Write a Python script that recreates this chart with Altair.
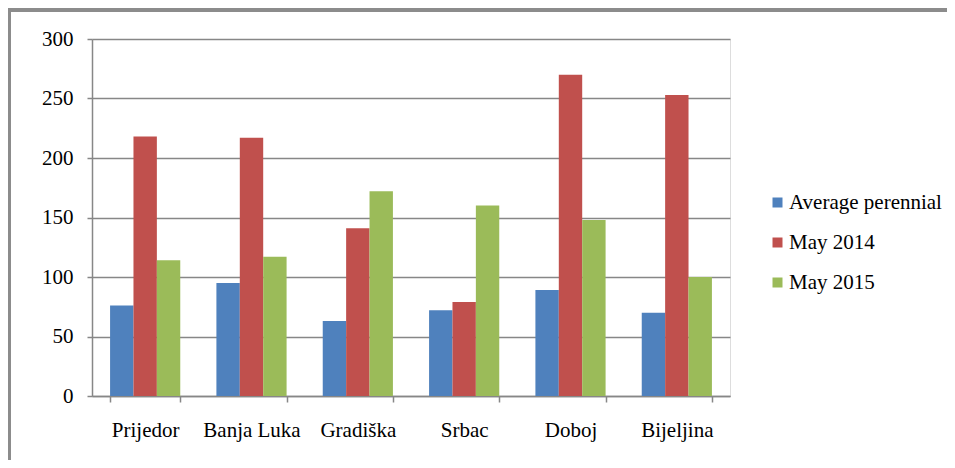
import altair as alt
import pandas as pd

cities = ["Prijedor", "Banja Luka", "Gradiška", "Srbac", "Doboj", "Bijeljina"]
series = ["Average perennial", "May 2014", "May 2015"]
avg_perennial = [76, 95, 63, 72, 89, 70]
may_2014 = [218, 217, 141, 79, 270, 253]
may_2015 = [114, 117, 172, 160, 148, 100]
colors = ["#4F81BD", "#C0504D", "#9BBB59"]

rows = []
for s, vals in zip(series, [avg_perennial, may_2014, may_2015]):
    for c, v in zip(cities, vals):
        rows.append({"city": c, "series": s, "value": v})
df = pd.DataFrame(rows)

FONT = "Liberation Serif, Times New Roman, serif"
GRID = "#878787"
FS = 21

bars = alt.Chart(df).mark_bar().encode(
    x=alt.X("city:N", sort=cities, title=None,
            scale=alt.Scale(paddingInner=0.34, paddingOuter=0.17),
            axis=alt.Axis(labelAngle=0, tickBand="extent", tickSize=6,
                          labelPadding=17, labelFontSize=FS, labelFont=FONT,
                          labelColor="black", domainColor=GRID, tickColor=GRID,
                          domainWidth=1.5, tickWidth=1.5, grid=False)),
    xOffset=alt.XOffset("series:N", sort=series, scale=alt.Scale(paddingInner=0, paddingOuter=0)),
    y=alt.Y("value:Q", title=None,
            scale=alt.Scale(domain=[0, 300], nice=False),
            axis=alt.Axis(values=[0, 50, 100, 150, 200, 250, 300], tickSize=5,
                          labelPadding=14, labelFontSize=FS, labelFont=FONT,
                          labelColor="black", domainColor=GRID, tickColor=GRID,
                          domainWidth=1.5, tickWidth=1.5,
                          gridColor=GRID, gridWidth=1.5)),
    color=alt.Color("series:N", sort=series,
                    scale=alt.Scale(domain=series, range=colors),
                    legend=alt.Legend(title=None, orient="none", legendX=675, legendY=153,
                                      symbolType="square", symbolSize=100,
                                      symbolStrokeWidth=0, labelOffset=1,
                                      labelFontSize=FS, labelFont=FONT, labelColor="black",
                                      rowPadding=18)),
)

frame = alt.Chart(df).mark_rect(fill=None, stroke="#8c8c8c", strokeWidth=2.5, clip=False).encode(
    x=alt.value(-83), x2=alt.value(1000), y=alt.value(-29), y2=alt.value(700)
)

chart = alt.layer(frame, bars).properties(
    width=638, height=357,
    autosize=alt.AutoSizeParams(type="none"),
    padding={"left": 84, "top": 31, "right": 217, "bottom": 64},
).configure_view(stroke=None).configure(background="white")

chart.save("out.html", embed_options={"renderer": "svg", "actions": False})
